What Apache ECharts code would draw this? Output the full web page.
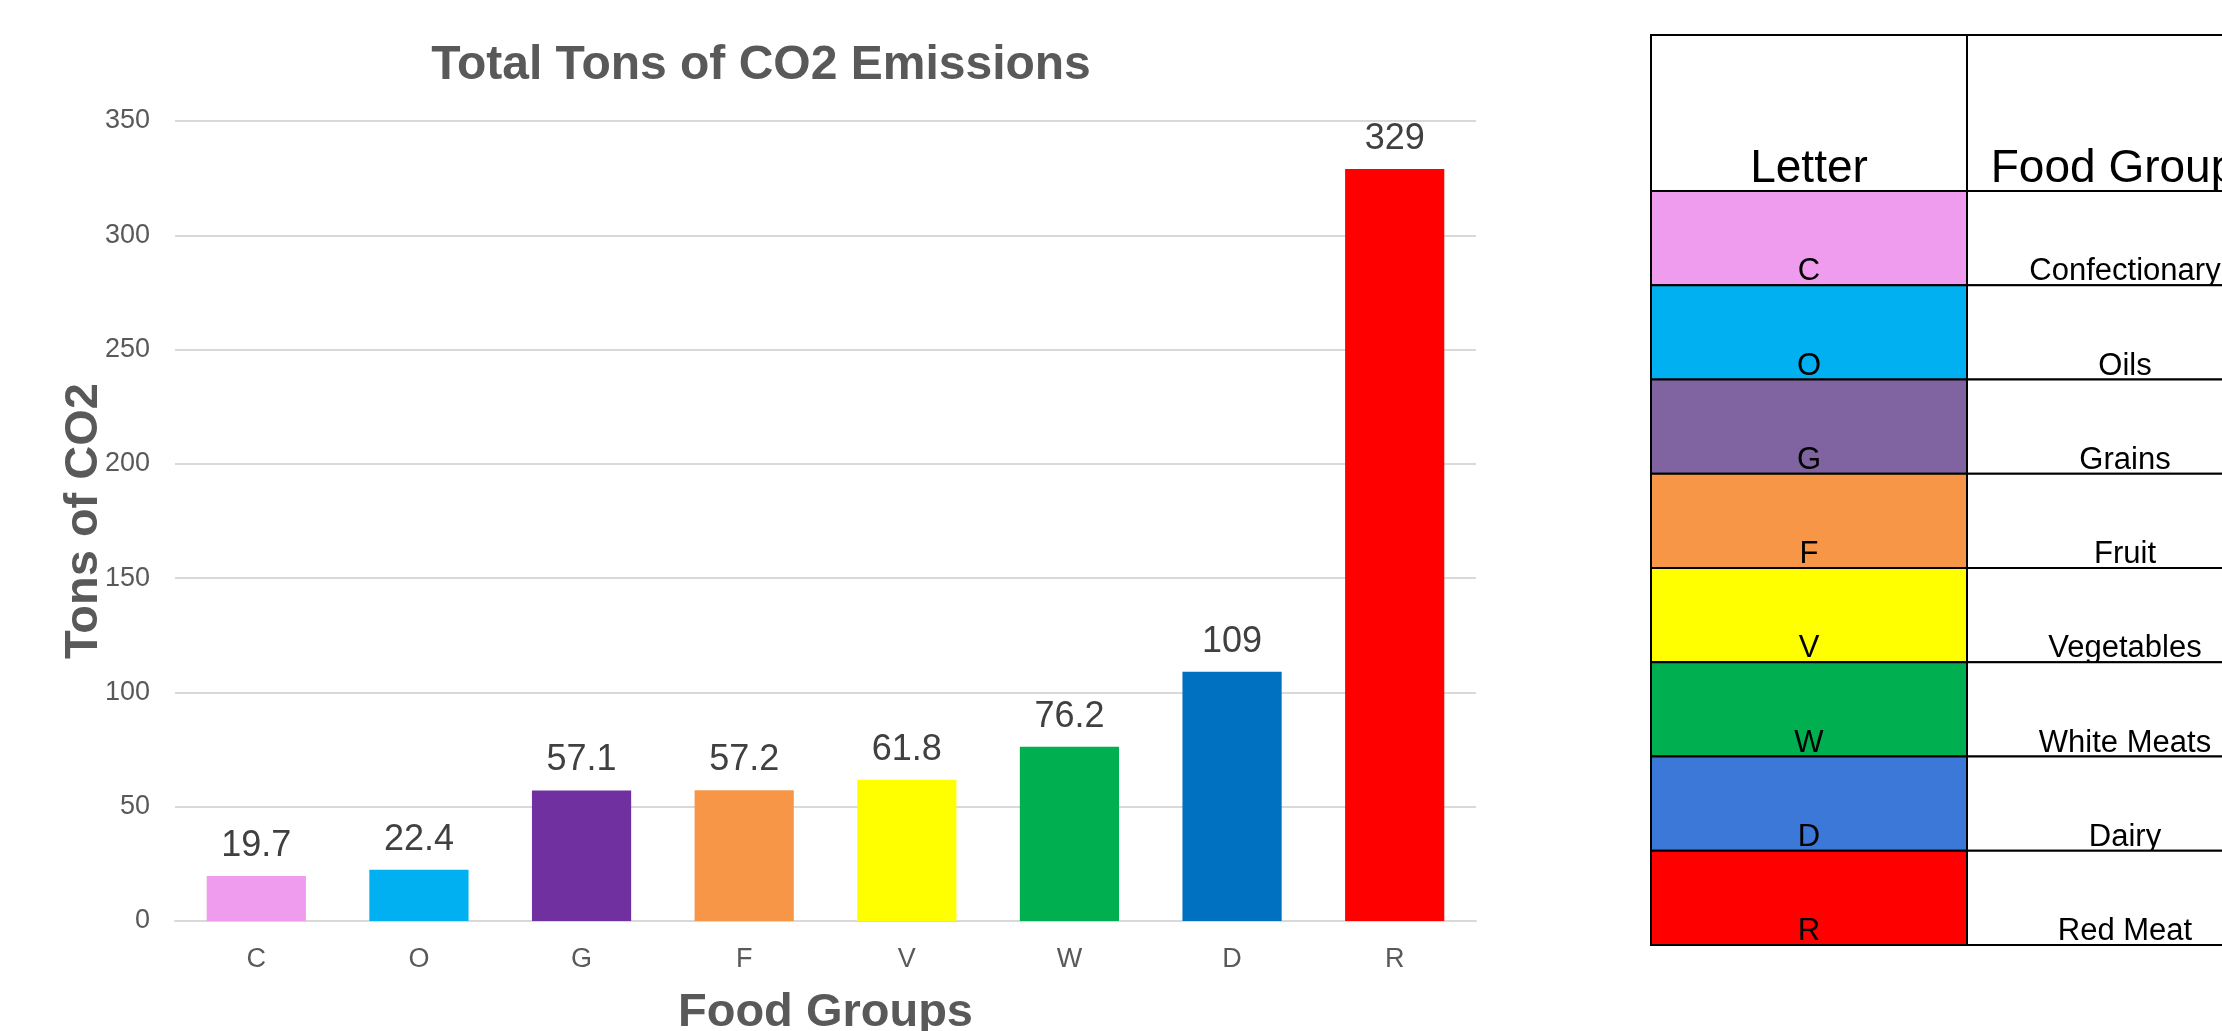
<!DOCTYPE html>
<html>
<head>
<meta charset="utf-8">
<title>Total Tons of CO2 Emissions</title>
<script src="https://cdn.jsdelivr.net/npm/echarts@6/dist/echarts.min.js"></script>
<style>
html, body {
	margin: 0;
	padding: 0;
	background: #fff;
}
#chart {
	width: 2222px;
	height: 1031px;
}
</style>
</head>
<body>
<div id="chart"></div>
<script>
// chart data
const categories = ['C', 'O', 'G', 'F', 'V', 'W', 'D', 'R']
const emissions = [19.7, 22.4, 57.1, 57.2, 61.8, 76.2, 109, 329]
const barColors = ['#F09CEE', '#00B0F0', '#7030A0', '#F79646', '#FFFF00', '#00B050', '#0070C0', '#FF0000']
const yTicks = [0, 50, 100, 150, 200, 250, 300, 350]

// key table
const tableHeaders = ['Letter', 'Food Groups']
const groupNames = ['Confectionary', 'Oils', 'Grains', 'Fruit', 'Vegetables', 'White Meats', 'Dairy', 'Red Meat']
const swatchColors = ['#F09CEE', '#00B0F0', '#8064A2', '#F79646', '#FFFF00', '#00B050', '#3C78D8', '#FF0000']

const font = 'Liberation Sans, Arial, sans-serif'

// table layout
const tbl = {
	left: 1651,
	top: 35,
	headH: 156,
	rowH: 94.25,
	col1: 316,
	col2: 316,
}

function buildTable() {
	const els = []
	const rowTop = (i) => tbl.top + tbl.headH + i * tbl.rowH
	// header cells
	els.push({ type: 'rect', shape: { x: tbl.left, y: tbl.top, width: tbl.col1, height: tbl.headH }, style: { fill: '#fff', stroke: '#000', lineWidth: 2 } })
	els.push({ type: 'rect', shape: { x: tbl.left + tbl.col1, y: tbl.top, width: tbl.col2, height: tbl.headH }, style: { fill: '#fff', stroke: '#000', lineWidth: 2 } })
	tableHeaders.forEach((h, j) => {
		els.push({
			type: 'text',
			x: tbl.left + (j == 0 ? tbl.col1 / 2 : tbl.col1 + tbl.col2 / 2),
			y: tbl.top + tbl.headH + 1,
			style: { text: h, fontSize: 46, fontFamily: font, fill: '#000', textAlign: 'center', textVerticalAlign: 'bottom' },
		})
	})
	categories.forEach((c, i) => {
		const y = rowTop(i)
		els.push({ type: 'rect', shape: { x: tbl.left, y: y, width: tbl.col1, height: tbl.rowH }, style: { fill: swatchColors[i], stroke: '#000', lineWidth: 2 } })
		els.push({ type: 'rect', shape: { x: tbl.left + tbl.col1, y: y, width: tbl.col2, height: tbl.rowH }, style: { fill: '#fff', stroke: '#000', lineWidth: 2 } })
		els.push({
			type: 'text', x: tbl.left + tbl.col1 / 2, y: y + tbl.rowH + 2,
			style: { text: c, fontSize: 31, fontFamily: font, fill: '#000', textAlign: 'center', textVerticalAlign: 'bottom' },
		})
		els.push({
			type: 'text', x: tbl.left + tbl.col1 + tbl.col2 / 2, y: y + tbl.rowH + 2,
			style: { text: groupNames[i], fontSize: 31, fontFamily: font, fill: '#000', textAlign: 'center', textVerticalAlign: 'bottom' },
		})
	})
	return els
}

const mychart = echarts.init(document.getElementById('chart'))
mychart.setOption({
	animation: false,
	backgroundColor: '#fff',
	textStyle: { fontFamily: font },
	title: {
		text: 'Total Tons of CO2 Emissions',
		left: 756,
		top: 37,
		textAlign: 'center',
		textStyle: { fontSize: 48, fontWeight: 'bold', color: '#595959', fontFamily: font },
	},
	grid: {
		left: 175,
		right: 746,
		top: 121,
		bottom: 110,
		containLabel: false,
		outerBoundsMode: 'none',
	},
	xAxis: {
		type: 'category',
		data: categories,
		name: 'Food Groups',
		nameLocation: 'middle',
		nameGap: 69,
		nameMoveOverlap: false,
		nameTextStyle: { fontSize: 47, fontWeight: 'bold', color: '#595959', fontFamily: font },
		axisLine: { lineStyle: { color: '#d9d9d9', width: 2 } },
		axisTick: { show: false },
		axisLabel: { fontSize: 27, color: '#595959', margin: 25, fontFamily: font },
	},
	yAxis: {
		type: 'value',
		min: yTicks[0],
		max: yTicks[yTicks.length - 1],
		interval: yTicks[1] - yTicks[0],
		name: 'Tons of CO2',
		nameLocation: 'middle',
		nameGap: 67,
		nameMoveOverlap: false,
		nameTextStyle: { fontSize: 47, fontWeight: 'bold', color: '#595959', fontFamily: font },
		axisLine: { show: false },
		axisTick: { show: false },
		axisLabel: { fontSize: 27, color: '#595959', margin: 25, fontFamily: font },
		splitLine: { lineStyle: { color: '#d9d9d9', width: 2 } },
	},
	series: [
		{
			type: 'bar',
			barWidth: '61%',
			data: emissions.map((v, i) => ({ value: v, itemStyle: { color: barColors[i] } })),
			label: {
				show: true,
				position: 'top',
				distance: 12,
				fontSize: 36,
				color: '#404040',
				fontFamily: font,
			},
		},
	],
	graphic: buildTable(),
})
</script>
</body>
</html>
